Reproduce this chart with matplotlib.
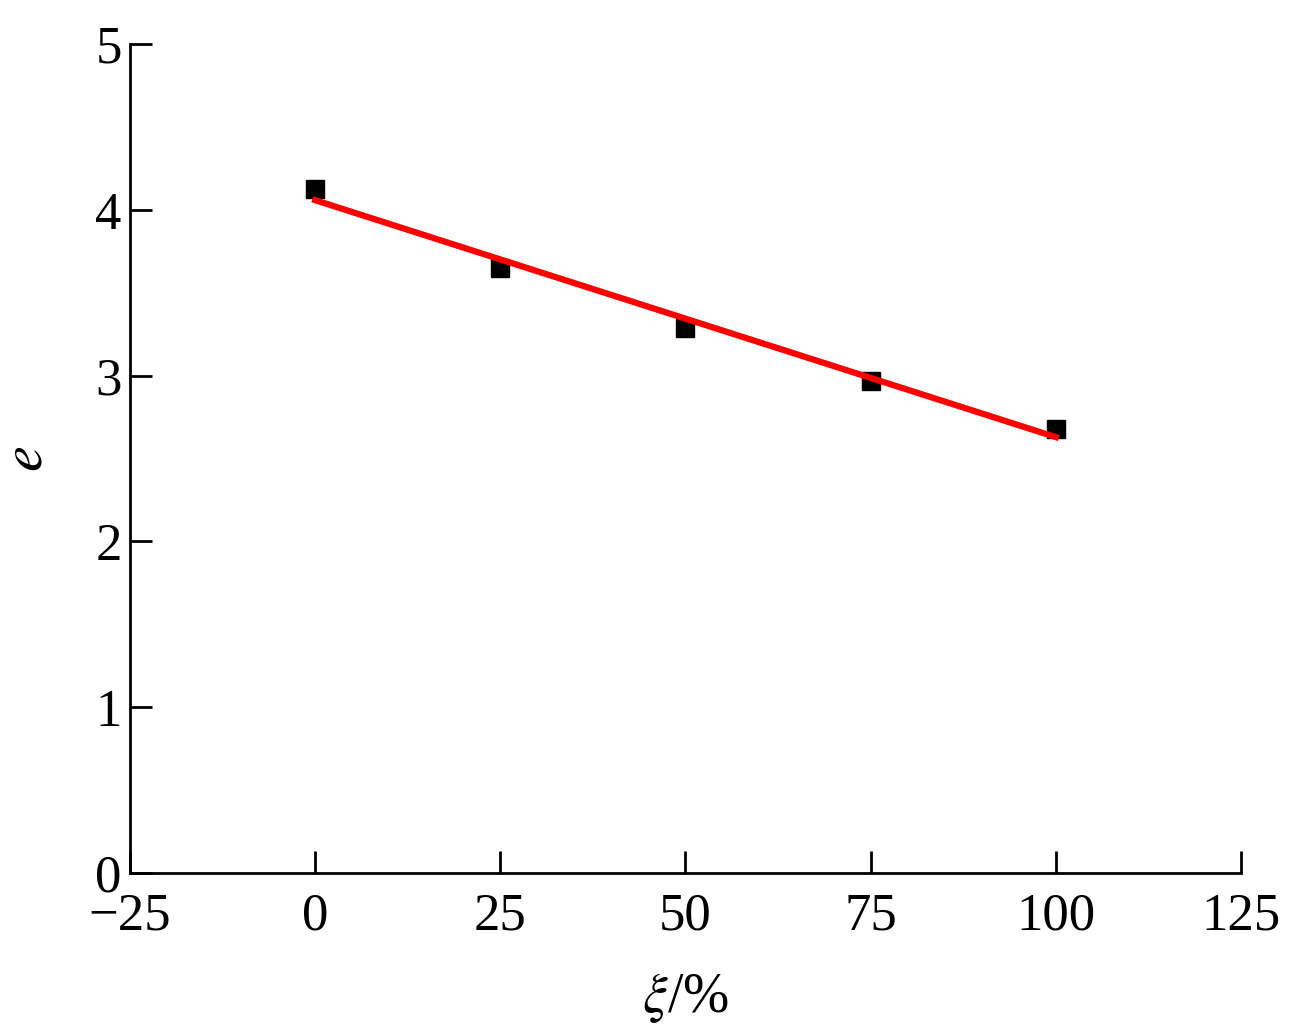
import matplotlib
matplotlib.use("Agg")
import matplotlib.pyplot as plt
import numpy as np

xi = [0, 25, 50, 75, 100]
e_vals = [4.13, 3.65, 3.29, 2.97, 2.68]
fit_x = [0, 100]
fit_y = [4.06, 2.63]

plt.rcParams["font.family"] = ["Liberation Serif", "DejaVu Serif"]
plt.rcParams["mathtext.fontset"] = "stix"

fig = plt.figure(figsize=(12.94, 10.33), dpi=100)
ax = fig.add_axes([0.1005, 0.155, 0.8585, 0.802])
ax.plot(xi, e_vals, "s", color="black", markersize=13)
ax.plot(fit_x, fit_y, "-", color="#ff0000", linewidth=4.5)

ax.set_xlim(-25, 125)
ax.set_ylim(0, 5)
ax.set_xticks([-25, 0, 25, 50, 75, 100, 125])
ax.set_xticklabels(["\u221225", "0", "25", "50", "75", "100", "125"])
ax.set_yticks([0, 1, 2, 3, 4, 5])
for s in ["top", "right"]:
    ax.spines[s].set_visible(False)
for s in ["left", "bottom"]:
    ax.spines[s].set_linewidth(2)
ax.tick_params(direction="in", length=16, width=2, labelsize=38)
ax.tick_params(axis="x", pad=14)
ax.tick_params(axis="y", pad=6)
ax.set_xlabel(r"$\xi$/%", fontsize=40, labelpad=22)
ax.set_ylabel(r"$e$", fontsize=42, labelpad=30)

fig.savefig("out.png", dpi=100)
